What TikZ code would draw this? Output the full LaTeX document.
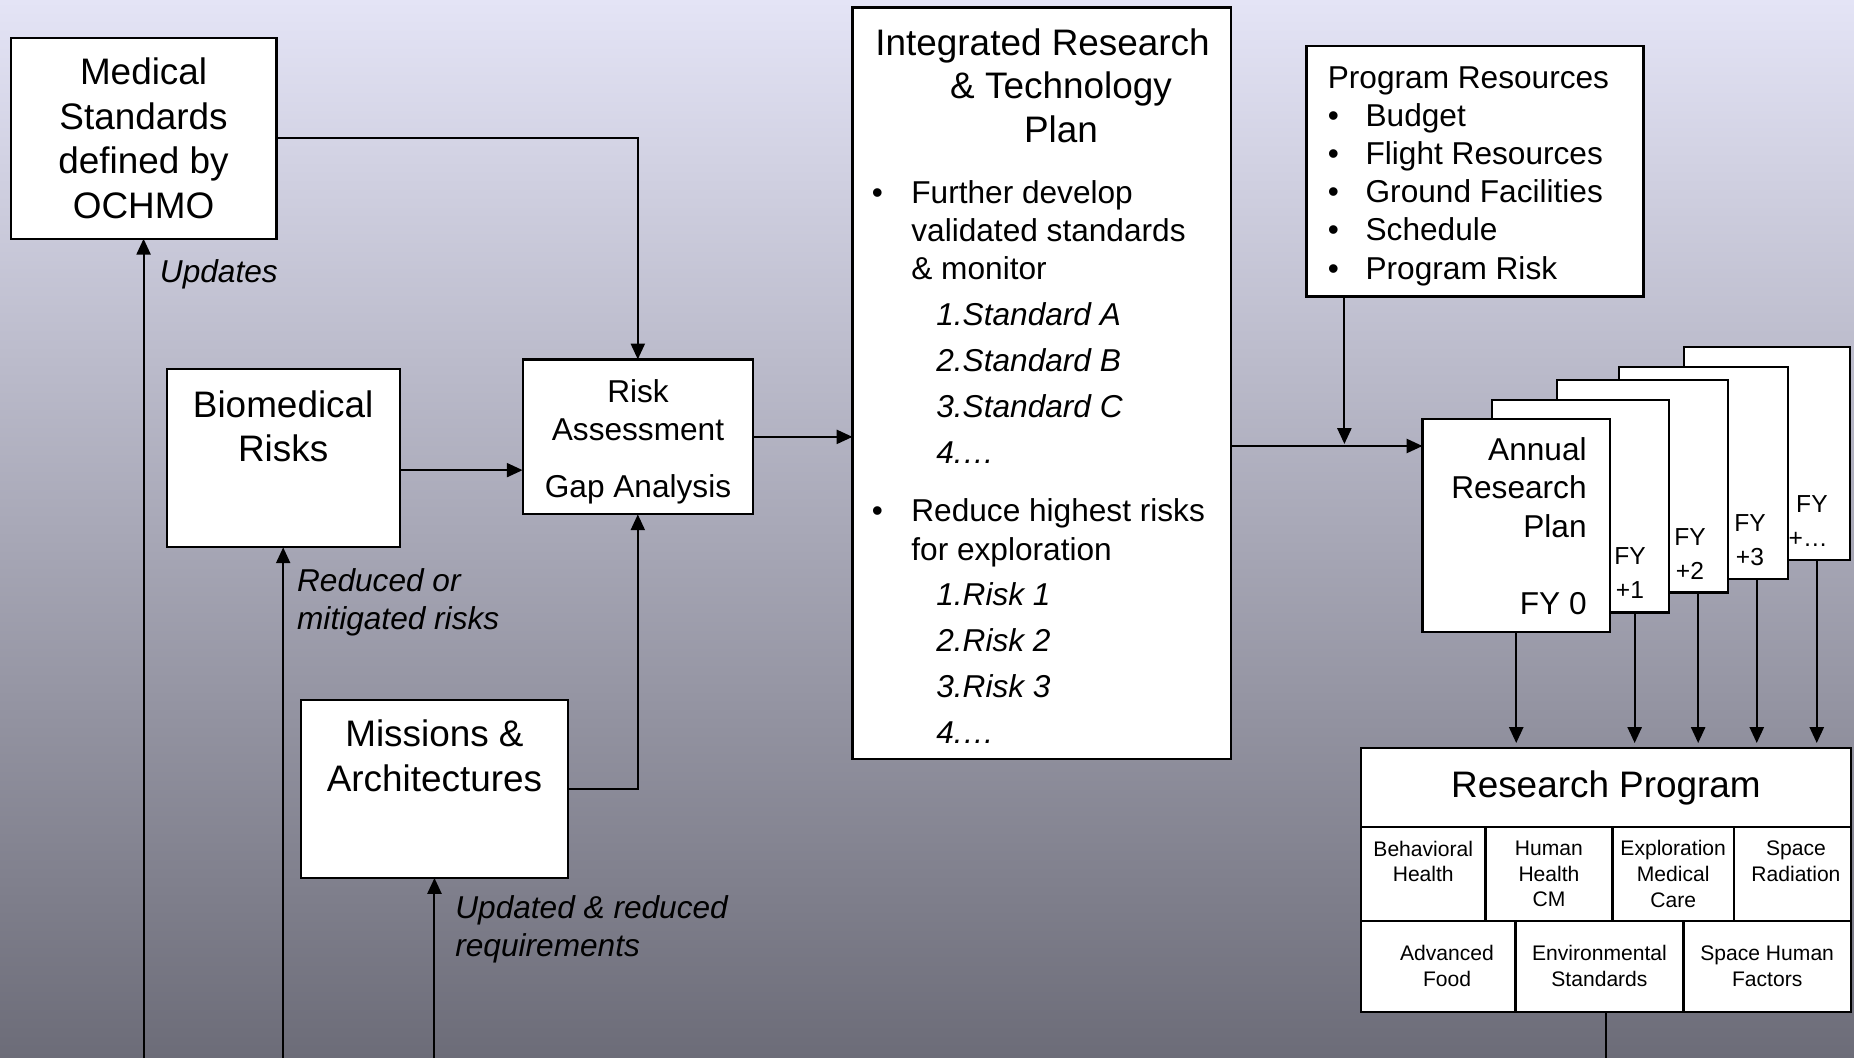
\documentclass[tikz,border=0pt]{standalone}
\usepackage{fontspec}
\setmainfont{Liberation Sans}
\usetikzlibrary{arrows.meta,positioning,calc}
\definecolor{bgtop}{RGB}{228,228,246}
\definecolor{bgmid}{RGB}{190,190,208}
\definecolor{bgbot}{RGB}{108,108,120}
\tikzset{
  box/.style={draw, fill=white, line width=1.25pt, inner sep=0pt, outer sep=0pt, anchor=north west},
  bigtxt/.style={font=\fontsize{21}{25.5}\selectfont, align=center, inner sep=0pt},
  midtxt/.style={font=\fontsize{18}{21.5}\selectfont, inner sep=0pt},
  lbl/.style={font=\fontsize{18}{21.5}\selectfont\itshape, align=left, inner sep=0pt, anchor=base west},
  fytxt/.style={font=\fontsize{14}{19.3}\selectfont, align=center, inner sep=0pt, anchor=base},
  cell/.style={draw, fill=white, line width=1.25pt, outer sep=0pt, inner sep=2pt, anchor=north west,
    align=center, font=\fontsize{12}{14.6}\selectfont},
  arr/.style={-{Triangle[length=9pt,width=8pt]}, line width=1.15pt},
}
\begin{document}
\begin{tikzpicture}[x=0.02cm,y=-0.02cm]
  \shade[top color=bgtop, middle color=bgmid, bottom color=bgbot] (0,0) rectangle (1854,1058);
  \useasboundingbox (0,0) rectangle (1854,1058);
  \coordinate (bottom) at (0,1064);

  %% left column (multi-line texts sit on their last baseline)
  \node[box, bigtxt, minimum width=5.32cm, minimum height=4.02cm] (medstd) at (10.6,37.8)
    {Medical\\Standards\\defined by\\OCHMO};
  \node[lbl] (updlbl) at (159.6,282) {Updates};

  \node[box, minimum width=4.66cm, minimum height=3.57cm] (bio) at (166.7,368.9) {};
  \node[bigtxt, anchor=base] (biotxt) at ($(bio.north)+(0,93)$) {Biomedical\\Risks};
  \node[lbl] (redlbl) at (296.8,629) {Reduced or\\mitigated risks};

  \node[box, minimum width=4.61cm, minimum height=3.10cm] (risk) at (522.6,359.4) {};
  \node[midtxt, align=center, anchor=base] (risktxt) at (638,497)
    {Risk\\Assessment\\[10.8pt]Gap Analysis};

  \node[box, minimum width=5.34cm, minimum height=3.56cm] (miss) at (301,700) {};
  \node[bigtxt, anchor=base] (misstxt) at ($(miss.north)+(0,91)$) {Missions \&\\Architectures};
  \node[lbl] (reqlbl) at (455,956) {Updated \& reduced\\requirements};

  %% integrated plan
  \node[box, minimum width=7.57cm, minimum height=15.04cm] (irtp) at (852.5,7.5) {};
  \node[bigtxt, font=\fontsize{21}{24.8}\selectfont, anchor=base] (irtptitle) at (1061,142.5)
    {Integrated Research\hspace*{21pt}\\\& Technology\\Plan};
  \node[midtxt, anchor=base west, align=left] (irtpa) at (871.5,279)
    {\makebox[22.5pt][l]{\textbullet}Further develop\\
     \hspace*{22.5pt}validated standards\\
     \hspace*{22.5pt}\& monitor};
  \node[lbl, font=\fontsize{18}{26.1}\selectfont\itshape] (irtpb) at (936,463)
    {1.Standard A\\2.Standard B\\3.Standard C\\4.…};
  \node[midtxt, font=\fontsize{18}{22}\selectfont, anchor=base west, align=left] (irtpc) at (871.5,560)
    {\makebox[22.5pt][l]{\textbullet}Reduce highest risks\\
     \hspace*{22.5pt}for exploration};
  \node[lbl, font=\fontsize{18}{26.1}\selectfont\itshape] (irtpd) at (936,743)
    {1.Risk 1\\2.Risk 2\\3.Risk 3\\4.…};

  %% resources
  \node[box, minimum width=6.74cm, minimum height=5.01cm] (res) at (1306.5,46.1) {};
  \node[midtxt, font=\fontsize{18}{21.65}\selectfont, align=left, anchor=base west] (restxt) at (1327.5,279)
    {Program Resources\\
     \makebox[21.5pt][l]{\textbullet}Budget\\
     \makebox[21.5pt][l]{\textbullet}Flight Resources\\
     \makebox[21.5pt][l]{\textbullet}Ground Facilities\\
     \makebox[21.5pt][l]{\textbullet}Schedule\\
     \makebox[21.5pt][l]{\textbullet}Program Risk};

  %% annual plans, back to front
  \node[box, minimum width=3.31cm, minimum height=4.27cm] (fy4) at (1684.3,346.7) {};
  \node[fytxt, align=right, anchor=base east] (fy4txt) at (1828,546) {FY\\+…};
  \node[box, minimum width=3.37cm, minimum height=4.25cm] (fy3) at (1619.3,366.7) {};
  \node[fytxt] (fy3txt) at (1750,565) {FY\\+3};
  \node[box, minimum width=3.43cm, minimum height=4.25cm] (fy2) at (1556.7,380) {};
  \node[fytxt] (fy2txt) at (1690,579) {FY\\+2};
  \node[box, minimum width=3.54cm, minimum height=4.25cm] (fy1) at (1491.7,400) {};
  \node[fytxt] (fy1txt) at (1630,598) {FY\\+1};
  \node[box, minimum width=3.75cm, minimum height=4.26cm] (fy0) at (1422.5,419) {};
  \node[midtxt, font=\fontsize{18}{22}\selectfont, align=right, anchor=base east] (fy0txt) at (1587,537.6)
    {Annual\\Research\\Plan};
  \node[midtxt, anchor=base east] (fy0yr) at (1587,614) {FY 0};

  %% research program
  \node[box, bigtxt, minimum width=9.80cm, minimum height=1.58cm] (rphead) at (1361,748.3) {Research Program};
  \node[cell, minimum width=2.49cm, minimum height=1.87cm] (rpa1) at (rphead.south west) {Behavioral\\Health\\\mbox{}};
  \node[cell, minimum width=2.54cm, minimum height=1.87cm, right=0pt of rpa1] (rpa2) {Human\\Health\\CM};
  \node[cell, minimum width=2.43cm, minimum height=1.87cm, right=0pt of rpa2] (rpa3) {Exploration\\Medical\\Care};
  \node[cell, minimum width=2.34cm, minimum height=1.87cm, right=0pt of rpa3] (rpa4) {\hspace*{4pt}Space\\\hspace*{4pt}Radiation\\\mbox{}};
  \node[cell, minimum width=3.09cm, minimum height=1.82cm] (rpb1) at (rpa1.south west) {\hspace*{10pt}Advanced\\\hspace*{10pt}Food};
  \node[cell, minimum width=3.36cm, minimum height=1.82cm, right=0pt of rpb1] (rpb2) {Environmental\\Standards};
  \node[cell, minimum width=3.35cm, minimum height=1.82cm, right=0pt of rpb2] (rpb3) {Space Human\\Factors};

  %% connectors
  \draw[arr] (medstd.east) -| (risk.north);
  \coordinate (bioout) at ($(bio.east)+(0,12)$);
  \draw[arr] (bioout) -- (bioout -| risk.west);
  \draw[arr] (miss.east) -| (risk.south);
  \draw[arr] (risk.east) -- (risk.east -| irtp.west);
  \draw[arr] (medstd.south |- bottom) -- (medstd.south);
  \draw[arr] (bio.south |- bottom) -- (bio.south);
  \draw[arr] (miss.south |- bottom) -- (miss.south);

  \coordinate (resin) at (1344.4,446);
  \draw[arr] (irtp.east |- resin) -- (resin -| fy0.west);
  \draw[arr] (res.south -| resin) -- ($(resin)+(0,-2)$);

  \draw[arr, shorten >=3pt] (fy0.south) -- (fy0.south |- rphead.north);
  \draw[arr, shorten >=3pt] ($(fy1.south east)+(-34,0)$) coordinate (fy1out) -- (fy1out |- rphead.north);
  \draw[arr, shorten >=3pt] ($(fy2.south east)+(-30,0)$) coordinate (fy2out) -- (fy2out |- rphead.north);
  \draw[arr, shorten >=3pt] ($(fy3.south east)+(-31,0)$) coordinate (fy3out) -- (fy3out |- rphead.north);
  \draw[arr, shorten >=3pt] ($(fy4.south east)+(-33,0)$) coordinate (fy4out) -- (fy4out |- rphead.north);
  \draw[line width=1.15pt] (rpb2.south -| rphead.south) -- (rphead.south |- bottom);
\end{tikzpicture}
\end{document}
